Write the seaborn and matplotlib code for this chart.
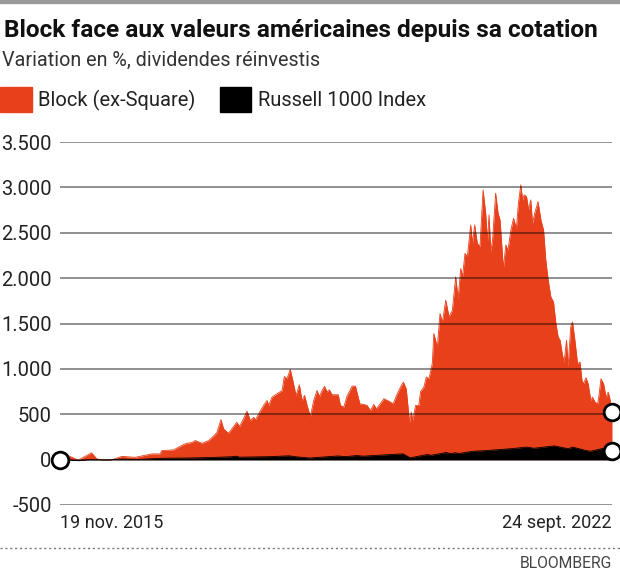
import pandas as pd
import seaborn as sns
import matplotlib.pyplot as plt
from matplotlib.patches import Rectangle
from matplotlib.lines import Line2D

# ---- data ----
block_dates = [
    "2015-11-19", "2015-12-26", "2016-02-10", "2016-04-10", "2016-05-03", "2016-05-26",
    "2016-07-10", "2016-08-25", "2016-10-24", "2017-01-08", "2017-02-14", "2017-02-22",
    "2017-04-16", "2017-05-31", "2017-06-16", "2017-07-08", "2017-07-23", "2017-08-23",
    "2017-09-22", "2017-10-22", "2017-10-30", "2017-11-17", "2017-11-29", "2017-12-21",
    "2018-01-13", "2018-01-28", "2018-02-09", "2018-02-27", "2018-03-15", "2018-03-30",
    "2018-04-14", "2018-04-22", "2018-05-07", "2018-05-29", "2018-06-14", "2018-06-21",
    "2018-07-06", "2018-07-29", "2018-08-21", "2018-08-31", "2018-09-12", "2018-09-27",
    "2018-10-10", "2018-10-23", "2018-11-07", "2018-11-19", "2018-12-01", "2018-12-12",
    "2018-12-27", "2019-01-11", "2019-01-26", "2019-02-06", "2019-02-18", "2019-03-01",
    "2019-03-13", "2019-03-23", "2019-04-04", "2019-05-02", "2019-05-12", "2019-05-27",
    "2019-06-11", "2019-07-04", "2019-07-19", "2019-08-08", "2019-08-26", "2019-09-10",
    "2019-09-25", "2019-10-10", "2019-10-22", "2019-11-10", "2019-11-25", "2019-12-17",
    "2020-01-06", "2020-01-21", "2020-02-08", "2020-02-21", "2020-03-05", "2020-03-20",
    "2020-03-28", "2020-04-04", "2020-04-16", "2020-05-01", "2020-05-09", "2020-05-24",
    "2020-06-04", "2020-06-16", "2020-07-01", "2020-07-08", "2020-07-24", "2020-08-05",
    "2020-08-16", "2020-08-31", "2020-09-15", "2020-09-30", "2020-10-15", "2020-10-26",
    "2020-11-07", "2020-11-15", "2020-11-26", "2020-12-07", "2020-12-22", "2020-12-30",
    "2021-01-09", "2021-01-21", "2021-02-02", "2021-02-16", "2021-02-28", "2021-03-08",
    "2021-03-15", "2021-03-23", "2021-03-31", "2021-04-14", "2021-04-25", "2021-05-04",
    "2021-05-19", "2021-05-30", "2021-06-09", "2021-06-22", "2021-07-04", "2021-07-17",
    "2021-07-26", "2021-08-06", "2021-08-14", "2021-08-21", "2021-09-01", "2021-09-10",
    "2021-09-20", "2021-09-28", "2021-10-08", "2021-10-23", "2021-11-05", "2021-11-17",
    "2021-11-27", "2021-12-08", "2021-12-20", "2022-01-01", "2022-01-12", "2022-01-22",
    "2022-01-31", "2022-02-11", "2022-02-18", "2022-03-01", "2022-03-08", "2022-03-20",
    "2022-03-28", "2022-04-08", "2022-04-20", "2022-05-01", "2022-05-10", "2022-05-17",
    "2022-05-28", "2022-06-07", "2022-06-19", "2022-06-27", "2022-07-08", "2022-07-20",
    "2022-07-27", "2022-08-04", "2022-08-16", "2022-08-27", "2022-09-06", "2022-09-15",
    "2022-09-23",
]
block_values = [
    0, 44, -5, 75, 10, -3,
    -3, 36, 25, 63, 63, 100,
    107, 166, 180, 188, 210, 180,
    210, 276, 302, 442, 339, 291,
    365, 412, 365, 450, 534, 431,
    467, 439, 505, 597, 652, 597,
    688, 726, 762, 917, 892, 994,
    854, 707, 825, 652, 707, 597,
    475, 652, 762, 696, 762, 807,
    744, 770, 715, 715, 597, 578,
    700, 810, 810, 615, 608, 597,
    541, 608, 560, 622, 671, 644,
    615, 707, 800, 854, 781, 412,
    523, 431, 597, 597, 750, 800,
    910, 892, 1060, 1389, 1241, 1610,
    1517, 1757, 1573, 1646, 2014, 1775,
    2107, 2014, 2272, 2236, 2586, 2383,
    2586, 2383, 2346, 2972, 2715, 2401,
    2696, 2291, 2420, 2936, 2715, 2641,
    2107, 2365, 2310, 2530, 2659, 2549,
    2825, 3028, 2862, 2917, 2898, 2751,
    2862, 2604, 2715, 2843, 2641, 2530,
    2199, 1978, 1793, 1738, 1499, 1352,
    1315, 1149, 1075, 1315, 1020, 1462,
    1517, 1315, 1057, 1075, 873, 836,
    903, 836, 652, 688, 633, 615,
    726, 892, 836, 688, 744, 652,
    530,
]

russell_dates = [
    "2015-11-19", "2015-12-31", "2016-01-20", "2016-02-11", "2016-03-31", "2016-06-27",
    "2016-08-15", "2016-11-03", "2016-12-31", "2017-03-01", "2017-06-30", "2017-09-30",
    "2017-12-31", "2018-01-26", "2018-02-08", "2018-06-30", "2018-09-20", "2018-10-29",
    "2018-12-24", "2019-04-30", "2019-06-03", "2019-07-26", "2019-08-23", "2019-12-31",
    "2020-02-19", "2020-03-23", "2020-06-08", "2020-06-26", "2020-09-02", "2020-09-23",
    "2020-10-12", "2020-10-30", "2020-12-31", "2021-03-04", "2021-06-30", "2021-09-02",
    "2021-10-04", "2021-12-31", "2022-01-03", "2022-03-08", "2022-03-29", "2022-05-20",
    "2022-06-16", "2022-08-16", "2022-09-23",
]
russell_values = [
    0, -2, -9, -11, -1, -3,
    6, 1, 9, 15, 18, 23,
    31, 38, 27, 33, 42, 30,
    18, 40, 33, 45, 38, 57,
    64, 20, 56, 48, 78, 66,
    76, 68, 92, 100, 122, 138,
    125, 150, 152, 120, 138, 105,
    92, 125, 98,
]

yticks = [-500, 0, 500, 1000, 1500, 2000, 2500, 3000, 3500]
ytick_labels = ["-500", "0", "500", "1.000", "1.500", "2.000", "2.500", "3.000", "3.500"]

title = "Block face aux valeurs américaines depuis sa cotation"
subtitle = "Variation en %, dividendes réinvestis"
series_names = ["Block (ex-Square)", "Russell 1000 Index"]
colors = ["#E8401A", "#000000"]

block = pd.DataFrame({"date": pd.to_datetime(block_dates), "value": block_values})
russell = pd.DataFrame({"date": pd.to_datetime(russell_dates), "value": russell_values})

# ---- figure ----
sns.set_style("white")
plt.rcParams["font.family"] = ["Roboto", "DejaVu Sans"]

W, H = 620, 570
fig = plt.figure(figsize=(W / 100, H / 100), dpi=100)


def fx(x):
    return x / W


def fy(y):
    return 1 - y / H


ax = fig.add_axes([fx(60), fy(505), (612 - 60) / W, (505 - 142) / H])

# areas
ax.fill_between(block["date"], 0, block["value"], color=colors[0], lw=0, zorder=1)
sns.lineplot(data=block, x="date", y="value", ax=ax, color=colors[0], lw=0.6, zorder=1)
ax.fill_between(russell["date"], 0, russell["value"], color=colors[1], lw=0, zorder=2)
sns.lineplot(data=russell, x="date", y="value", ax=ax, color=colors[1], lw=0.6, zorder=2)

# grid lines drawn over the areas
for v in yticks:
    ax.axhline(v, color="black", alpha=0.55, lw=1.1, zorder=3)

start, end = block["date"].iloc[0], block["date"].iloc[-1]
ax.set_xlim(start, end)
ax.set_ylim(-500, 3500)
ax.set_yticks(yticks)
ax.set_yticklabels(ytick_labels)
ax.tick_params(axis="y", length=0, pad=6, labelsize=14.5, labelcolor="#222222")
ax.set_xticks([])
ax.set_xlabel("")
ax.set_ylabel("")
for s in ax.spines.values():
    s.set_visible(False)

# end markers
ax.plot([start, end, end], [0, block_values[-1], russell_values[-1]], "o",
        ms=12, mfc="white", mec="black", mew=2, clip_on=False, zorder=5)

# texts
fig.add_artist(Rectangle((0, fy(3)), 1, 3 / H, color="#9a9a9a", transform=fig.transFigure))
fig.text(fx(4), fy(31), title, fontsize=17.6, fontweight="bold", va="center", color="#111111")
fig.text(fx(2), fy(60), subtitle, fontsize=14.2, va="center", color="#333333")

fig.add_artist(Rectangle((fx(0), fy(112)), 32 / W, 25 / H, color=colors[0], transform=fig.transFigure))
fig.text(fx(38), fy(100), series_names[0], fontsize=14.5, va="center", color="#222222")
fig.add_artist(Rectangle((fx(220), fy(112)), 31 / W, 25 / H, color=colors[1], transform=fig.transFigure))
fig.text(fx(258), fy(100), series_names[1], fontsize=14.5, va="center", color="#222222")

fig.text(fx(60), fy(523), "19 nov. 2015", fontsize=13, va="center", ha="left", color="#222222")
fig.text(fx(612), fy(523), "24 sept. 2022", fontsize=13, va="center", ha="right", color="#222222")

fig.add_artist(Line2D([0, 1], [fy(548), fy(548)], color="#777777", lw=1, ls=(0, (1.5, 2)),
                      transform=fig.transFigure))
fig.text(fx(612), fy(563), "BLOOMBERG", fontsize=11.3, va="center", ha="right", color="#444444")

fig.savefig("out.png", dpi=100)
